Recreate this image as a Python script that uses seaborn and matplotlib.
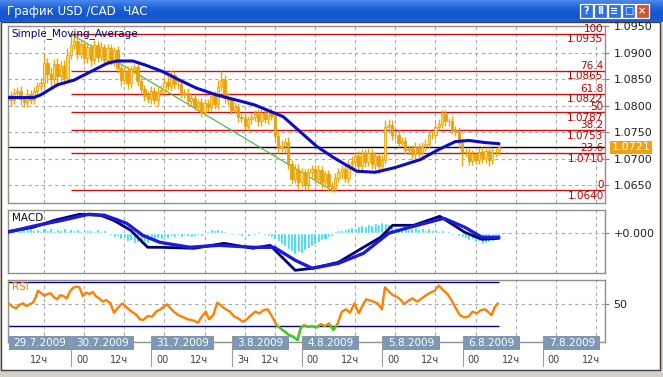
import numpy as np
import matplotlib
matplotlib.use("Agg")
import matplotlib.pyplot as plt
import matplotlib.transforms as mtransforms
from matplotlib.patches import Rectangle
from matplotlib.colors import LinearSegmentedColormap
import seaborn as sns

sns.set_theme(style="white")
plt.rcParams['font.family'] = ['DejaVu Sans']

# ---------------- data ----------------
close = [
    1.0820, 1.0810, 1.0824, 1.0828, 1.0812, 1.0806, 1.0822, 1.0810, 1.0828, 1.0836,
    1.0842, 1.0880, 1.0860, 1.0850, 1.0878, 1.0855, 1.0875, 1.0852, 1.0896, 1.0915,
    1.0922, 1.0898, 1.0916, 1.0890, 1.0910, 1.0885, 1.0914, 1.0892, 1.0910, 1.0886,
    1.0908, 1.0885, 1.0904, 1.0870, 1.0848, 1.0866, 1.0842, 1.0868, 1.0872, 1.0846,
    1.0832, 1.0818, 1.0812, 1.0828, 1.0810, 1.0826, 1.0830, 1.0845, 1.0836, 1.0858,
    1.0840, 1.0840, 1.0822, 1.0824, 1.0808, 1.0814, 1.0798, 1.0806, 1.0788, 1.0804,
    1.0798, 1.0818, 1.0803, 1.0835, 1.0848, 1.0815, 1.0810, 1.0792, 1.0798, 1.0778,
    1.0776, 1.0762, 1.0774, 1.0778, 1.0784, 1.0770, 1.0786, 1.0774, 1.0788, 1.0780,
    1.0742, 1.0720, 1.0724, 1.0732, 1.0690, 1.0662, 1.0680, 1.0655, 1.0674, 1.0650,
    1.0674, 1.0680, 1.0662, 1.0678, 1.0656, 1.0670, 1.0648, 1.0645, 1.0664, 1.0674,
    1.0680, 1.0663, 1.0690, 1.0694, 1.0705, 1.0686, 1.0710, 1.0694, 1.0710, 1.0690,
    1.0704, 1.0686, 1.0698, 1.0760, 1.0764, 1.0744, 1.0745, 1.0730, 1.0733, 1.0716,
    1.0718, 1.0708, 1.0722, 1.0711, 1.0724, 1.0728, 1.0744, 1.0744, 1.0760, 1.0766,
    1.0784, 1.0770, 1.0770, 1.0753, 1.0752, 1.0730, 1.0712, 1.0712, 1.0696, 1.0708,
    1.0698, 1.0712, 1.0701, 1.0714, 1.0698, 1.0712, 1.0712, 1.0721]

hi_pips = [
    7, 8, 9, 7, 8, 7, 9, 8, 7, 8,
    9, 18, 10, 12, 9, 11, 9, 10, 12, 22,
    10, 8, 9, 8, 10, 7, 9, 8, 9, 7,
    8, 9, 7, 9, 8, 10, 8, 9, 7, 8,
    8, 7, 9, 8, 7, 8, 9, 8, 10, 9,
    7, 8, 7, 8, 9, 7, 8, 7, 8, 9,
    8, 7, 9, 14, 17, 9, 8, 7, 8, 7,
    7, 8, 7, 8, 7, 9, 7, 8, 7, 8,
    9, 8, 10, 7, 9, 8, 10, 9, 8, 7,
    9, 8, 7, 9, 8, 7, 8, 7, 9, 8,
    7, 9, 8, 10, 8, 9, 7, 8, 9, 7,
    8, 7, 9, 12, 10, 8, 7, 9, 8, 7,
    8, 7, 9, 8, 7, 8, 9, 7, 8, 9,
    8, 8, 7, 10, 8, 7, 9, 8, 7, 8,
    7, 8, 9, 7, 8, 7, 8, 7]

lo_pips = [
    8, 10, 7, 9, 11, 8, 9, 7, 8, 7,
    8, 9, 18, 16, 10, 18, 9, 14, 8, 9,
    9, 10, 8, 12, 9, 10, 7, 9, 8, 10,
    9, 8, 10, 9, 12, 8, 10, 9, 8, 10,
    9, 10, 8, 9, 7, 10, 8, 9, 7, 8,
    8, 9, 7, 8, 9, 8, 7, 9, 10, 8,
    9, 8, 10, 9, 8, 10, 9, 8, 7, 9,
    8, 7, 9, 8, 7, 8, 9, 7, 8, 7,
    9, 10, 8, 11, 9, 10, 8, 12, 9, 10,
    8, 9, 10, 8, 12, 9, 10, 9, 8, 9,
    10, 8, 9, 7, 10, 8, 9, 10, 8, 9,
    12, 14, 10, 8, 9, 10, 8, 9, 7, 8,
    9, 8, 10, 8, 7, 9, 8, 7, 8, 7,
    8, 9, 8, 7, 9, 10, 26, 10, 9, 8,
    9, 8, 10, 9, 12, 8, 9, 6]

sma_idx = [0, 8, 10, 15, 20, 25, 30, 33, 37.5, 41, 46.5, 51.5, 56.5, 62.5, 70.5, 74, 79,
           82.5, 87.5, 92.5, 97.5, 104.5, 110, 116, 123.5, 129, 134, 138, 143, 147]
sma_val = [1.0815, 1.0815, 1.0820, 1.0839, 1.0848, 1.0864, 1.0880, 1.0884, 1.0884, 1.0877,
           1.0864, 1.0848, 1.0833, 1.0820, 1.0807, 1.0801, 1.0788, 1.0779, 1.0751, 1.0723,
           1.0702, 1.0676, 1.0674, 1.0683, 1.0698, 1.0717, 1.0732, 1.0734, 1.0730, 1.0728]

fib_pct = ['100', '76.4', '61.8', '50', '38.2', '23.6', '0']
fib_val = [1.0935, 1.0865, 1.0822, 1.0787, 1.0753, 1.0710, 1.0640]
fib_start_idx = 19
trend_idx = [19, 97]
last_price = 1.0721

# MACD (in pips)
macd_idx = [0, 7.8, 14.1, 21.6, 27.9, 31.8, 36.9, 42, 45.6, 55.8, 64.8, 73.5, 78.6, 86.1,
            91.2, 99, 106.5, 111.6, 115.2, 121.5, 129.3, 136.8, 141.9, 147]
macd_main = [1.5, 6, 13, 19, 18, 13, 3, -14, -14, -15, -10, -15, -12, -37,
             -35, -29, -14, -4, 8, 8, 17, 1, -6, -5]
signal_idx = [0, 9, 16.5, 24.3, 29.1, 35.7, 40.5, 45.6, 54.6, 63.3, 73.5, 79.8, 86.1,
              91.2, 99, 106.5, 114, 120.3, 130.5, 136.8, 141.9, 147]
signal_val = [1, 8, 13, 19, 18, 10, -2, -9, -14, -12, -14, -14, -27,
              -35, -30, -20, 0, 6, 15, 6, -4, -4]
hist = [
    3, 5, 4, 6, 3, 5, 4, 5, 3, 4,
    2, 5, 3, 5, 2, 4, 3, 5, 2, 4,
    3, 4, 2, 4, 3, 3, 2, 4, 2, 3,
    -1, -2, -4, -3, -6, -5, -8, -7, -10, -9,
    -11, -9, -10, -7, -8, -5, -6, -4, -5, -3,
    -4, -2, -4, -2, -3, -4, -3, -2, -3, -1,
    2, 4, 3, 4, 3, 2, -1, -2, 1, -2,
    -3, -1, -3, -1, -2, 2, -1, -2, -3, -4,
    -6, -8, -11, -13, -16, -18, -21, -19, -20, -17,
    -15, -13, -11, -9, -7, -6, -4, -3, 2, 3,
    3, 4, 5, 6, 5, 7, 8, 7, 9, 8,
    10, 9, 11, 10, 9, 8, 6, 5, 4, 6,
    4, 5, 6, 4, 5, 3, 5, 3, 4, 2,
    3, -1, 2, -2, 1, -3, -4, -5, -7, -6,
    -9, -8, -11, -10, -9, -8, -7, -6]

# RSI
rsi_idx = [0.4, 1.6, 2.6, 3.9, 4.8, 5.7, 6.7, 7.7, 8.6, 9.2,
           10.2, 11.1, 12, 13, 14, 14.9, 15.8, 16.8, 17.8, 18.7,
           19.5, 20.5, 21.6, 22.6, 23.6, 24.6, 25.6, 26.6, 27.5, 28.5,
           29.6, 30.9, 31.9, 33.2, 34.4, 35.7, 37.2, 38.5, 39.7, 40.7,
           42, 43.3, 44.5, 45.8, 46.8, 47.8, 48.8, 49.8, 51.1, 52.3,
           54, 55.9, 57.1, 58.1, 59.4, 60.3, 61.6, 62.8, 64.1, 65.3,
           66.6, 67.9, 69.1, 70.4, 71.6, 72.9, 74.2, 75.4, 76.7, 77.9,
           79.2, 80.5, 81.7, 83, 84.2, 85.5, 86.8, 87.7, 88.7, 90,
           91.2, 92.5, 93.7, 95, 96.2, 97.5, 98.8, 100, 101.3, 102.5,
           103.8, 105.1, 106.3, 107.3, 108.8, 110.7, 112, 112.9, 113.9, 115.2,
           116.4, 117.7, 118.7, 119.9, 121.2, 122.5, 124, 125.3, 126.5, 127.8,
           129, 130.3, 131.6, 132.8, 134.1, 135.3, 136.6, 137.9, 139.1, 140.4,
           141.6, 142.9, 144.2, 144.8, 145.7, 146.7]
rsi_val = [50.6, 47.6, 46.1, 49.7, 50.6, 48.2, 49.7, 51.2, 56.7, 62.1,
           59.7, 57.3, 59.1, 59.7, 56.1, 54.3, 57.9, 57.3, 54.9, 61.2,
           64.2, 65.8, 65.2, 57.3, 60.3, 59.1, 60.9, 56.7, 55.2, 52.2,
           53.6, 50.6, 42.1, 47.0, 50.6, 47.0, 43.0, 40.6, 36.1, 35.5,
           39.1, 38.5, 43.0, 45.2, 47.6, 49.7, 46.1, 43.0, 40.0, 38.5,
           36.1, 34.8, 33.0, 38.5, 43.0, 36.1, 40.0, 51.2, 48.2, 45.2,
           43.0, 38.5, 36.9, 33.9, 36.1, 40.0, 43.0, 41.5, 44.5, 45.2,
           38.5, 30.9, 27.9, 24.9, 21.8, 20.3, 17.3, 27.9, 30.9, 29.4,
           30.0, 28.8, 31.8, 30.0, 32.4, 26.4, 32.4, 43.0, 45.2, 42.1,
           50.6, 41.5, 49.1, 54.3, 53.0, 50.6, 45.2, 65.2, 62.1, 58.2,
           56.7, 53.6, 49.7, 53.0, 55.2, 52.2, 55.2, 58.2, 60.3, 62.1,
           66.7, 62.7, 59.1, 53.6, 46.1, 40.0, 37.9, 38.5, 43.0, 41.5,
           44.5, 45.2, 41.5, 40.0, 47.0, 50.6]
rsi_levels = [30, 70]

grid_idx = [11, 23, 35, 47, 59, 71, 80, 92, 104, 116, 128, 140, 152, 164, 176]
hour_labels = ['12ч', '00', '12ч', '00', '12ч', '3ч', '12ч', '00', '12ч', '00', '12ч',
               '00', '12ч', '00', '12ч']
day_labels = ['29.7.2009', '30.7.2009', '31.7.2009', '3.8.2009', '4.8.2009',
              '5.8.2009', '6.8.2009', '7.8.2009']
day_start_idx = [None, 23, 47, 71, 92, 116, 140, 164]

title = 'График USD /CAD  ЧАС'

# ---------------- figure ----------------
W, H = 663, 377
fig = plt.figure(figsize=(W / 100, H / 100), dpi=100)
fig.patch.set_facecolor('#d4d0c8')


def px_rect(left, top, right, bottom):
    return [left / W, 1 - bottom / H, (right - left) / W, (bottom - top) / H]


bg = fig.add_axes([0, 0, 1, 1], zorder=0)
bg.set_xlim(0, W)
bg.set_ylim(H, 0)
bg.axis('off')
bg.add_patch(Rectangle((1, 22), 659, 348, facecolor='white', edgecolor='#404040', lw=1))
grad = np.linspace(0, 1, 22).reshape(-1, 1)
cm = LinearSegmentedColormap.from_list('tb', ['#4a88ee', '#1f64dc', '#1155cc', '#1a5bd2'])
bg.imshow(grad, cmap=cm, extent=(0, W, 22, 0), aspect='auto', zorder=1)
bg.text(7, 11, title, color='white', fontsize=8.5, va='center', ha='left', zorder=2)
btn_x = [580, 594, 608, 622, 636]
btn_g = ['?', 'II', '≡', '□', '×']
for k, (bx, g) in enumerate(zip(btn_x, btn_g)):
    fc = '#d9502a' if k == 4 else '#2f6fe6'
    bg.add_patch(Rectangle((bx, 4), 12.5, 14, facecolor=fc, edgecolor='white', lw=0.9, zorder=2))
    bg.text(bx + 6.3, 11, g, color='white', fontsize=7, ha='center', va='center',
            fontweight='bold', zorder=3)

XL = (0.24, 178.7)
ax1 = fig.add_axes(px_rect(8, 25.7, 605, 202.7), zorder=2)
ax2 = fig.add_axes(px_rect(8, 210, 605, 273), zorder=2)
ax3 = fig.add_axes(px_rect(8, 280, 605, 342), zorder=2)

grid_kw = dict(color='#a9a9a9', lw=0.8, ls=(0, (3, 3)))
for ax in (ax1, ax2, ax3):
    ax.set_facecolor('white')
    ax.set_xlim(*XL)
    ax.set_xticks(grid_idx)
    ax.tick_params(axis='x', length=0, labelbottom=False)
    ax.yaxis.tick_right()
    ax.tick_params(axis='y', direction='out', length=3, width=0.8, color='#808080',
                   labelsize=8, labelcolor='#202020', pad=3)
    ax.grid(True, **grid_kw)
    ax.set_axisbelow(True)
    for s in ax.spines.values():
        s.set_color('#8f8f8f')
        s.set_linewidth(1)

# ---- main price panel ----
ax1.set_ylim(1.06166, 1.09506)
yt = [1.0650, 1.0700, 1.0750, 1.0800, 1.0850, 1.0900, 1.0950]
ax1.set_yticks(yt)
ax1.set_yticklabels(['%.4f' % v for v in yt])

idx = np.arange(len(close))
c = np.array(close)
o = np.r_[c[0], c[:-1]]
top = np.maximum(o, c)
bot = np.minimum(o, c)
hi = top + np.array(hi_pips) * 1e-4
lo = bot - np.array(lo_pips) * 1e-4

ax1.hlines(fib_val, fib_start_idx, XL[1], color='#cc1010', lw=1, zorder=1)
ax1.axhline(last_price, color='black', lw=1, zorder=1.5)
ax1.plot(trend_idx, [fib_val[0], fib_val[-1]], color='#3cb43c', lw=0.8, zorder=2)
ax1.vlines(idx, lo, hi, color='#efa800', lw=1.0, zorder=3)
fills = np.where(c >= o, '#ffd866', '#f0a000')
ax1.bar(idx, np.maximum(top - bot, 0.00006), bottom=bot, width=0.7, color=fills,
        edgecolor='#e39b00', linewidth=0.5, zorder=3.5)
sns.lineplot(x=sma_idx, y=sma_val, ax=ax1, color='#0a0ac8', lw=2.2, zorder=4,
             estimator=None, sort=False)
ax1.set_xlabel('')
ax1.set_ylabel('')
for pct, v in zip(fib_pct, fib_val):
    ax1.text(178.3, v + 0.00003, pct, ha='right', va='bottom', fontsize=7.5,
             color='#c00000', zorder=5)
    ax1.text(178.3, v - 0.00006, '%.4f' % v, ha='right', va='top', fontsize=7.5,
             color='#c00000', zorder=5)
ax1.text(0.006, 0.985, 'Simple_Moving_Average', transform=ax1.transAxes, ha='left',
         va='top', fontsize=7.5, color='#000080', zorder=6)
tr = mtransforms.blended_transform_factory(ax1.transAxes, ax1.transData)
ax1.text(1.0 + 6.5 / 597, last_price, '%.4f' % last_price, transform=tr, ha='left',
         va='center', fontsize=8, color='white', clip_on=False, zorder=6,
         bbox=dict(boxstyle='square,pad=0.12', facecolor='#f0a010', edgecolor='none'))

# ---- MACD panel ----
ax2.set_ylim(-39.7, 23.3)
ax2.set_yticks([0])
ax2.set_yticklabels(['+0.000'])
ax2.bar(idx, hist, width=0.9, color='#18d8f4', zorder=2)
sns.lineplot(x=macd_idx, y=macd_main, ax=ax2, color='#000070', lw=2.0, zorder=3,
             estimator=None, sort=False)
sns.lineplot(x=signal_idx, y=signal_val, ax=ax2, color='#1c1cd8', lw=2.4, zorder=3,
             estimator=None, sort=False)
ax2.set_xlabel('')
ax2.set_ylabel('')
ax2.text(0.006, 0.96, 'MACD', transform=ax2.transAxes, ha='left', va='top',
         fontsize=7.5, color='#101010', zorder=6)

# ---- RSI panel ----
ax3.set_ylim(15.5, 71.8)
ax3.set_yticks([50])
ax3.set_yticklabels(['50'])
ax3.hlines(rsi_levels, 0, 147, color='#000080', lw=1, zorder=2)
sns.lineplot(x=rsi_idx, y=rsi_val, ax=ax3, color='#ff8000', lw=1.7, zorder=3,
             estimator=None, sort=False)
green, = ax3.plot(rsi_idx, rsi_val, color='#30d030', lw=1.7, zorder=3.5)
clip = Rectangle((XL[0], 0), XL[1] - XL[0], rsi_levels[0], transform=ax3.transData)
green.set_clip_path(clip)
ax3.set_xlabel('')
ax3.set_ylabel('')
ax3.text(0.006, 0.97, 'RSI', transform=ax3.transAxes, ha='left', va='top',
         fontsize=7.5, color='#ff8000', zorder=6)

# ---- time axis labels (pixel overlay) ----
ov = fig.add_axes([0, 0, 1, 1], zorder=10)
ov.set_xlim(0, W)
ov.set_ylim(H, 0)
ov.axis('off')
ov.patch.set_alpha(0)


def xpix(i):
    return ax3.transData.transform((i, 0))[0]


for gi, hl in zip(grid_idx, hour_labels):
    ov.text(xpix(gi) + 4, 360, hl, ha='right', va='center', fontsize=7, color='#404040')

for lab, di in zip(day_labels, day_start_idx):
    left = 8 if di is None else xpix(di) - 13
    wbox = 62 if len(lab) == 9 else 57
    if di is not None:
        ov.plot([left, left], [336, 366], color='#9a9a9a', lw=0.8)
    ov.add_patch(Rectangle((left + 0.5, 335.5), wbox, 14.5, facecolor='#7d98b4',
                           edgecolor='none'))
    ov.text(left + 0.5 + wbox / 2, 343, lab, ha='center', va='center', fontsize=7.5,
            color='white')

fig.savefig('out.png', dpi=100)
